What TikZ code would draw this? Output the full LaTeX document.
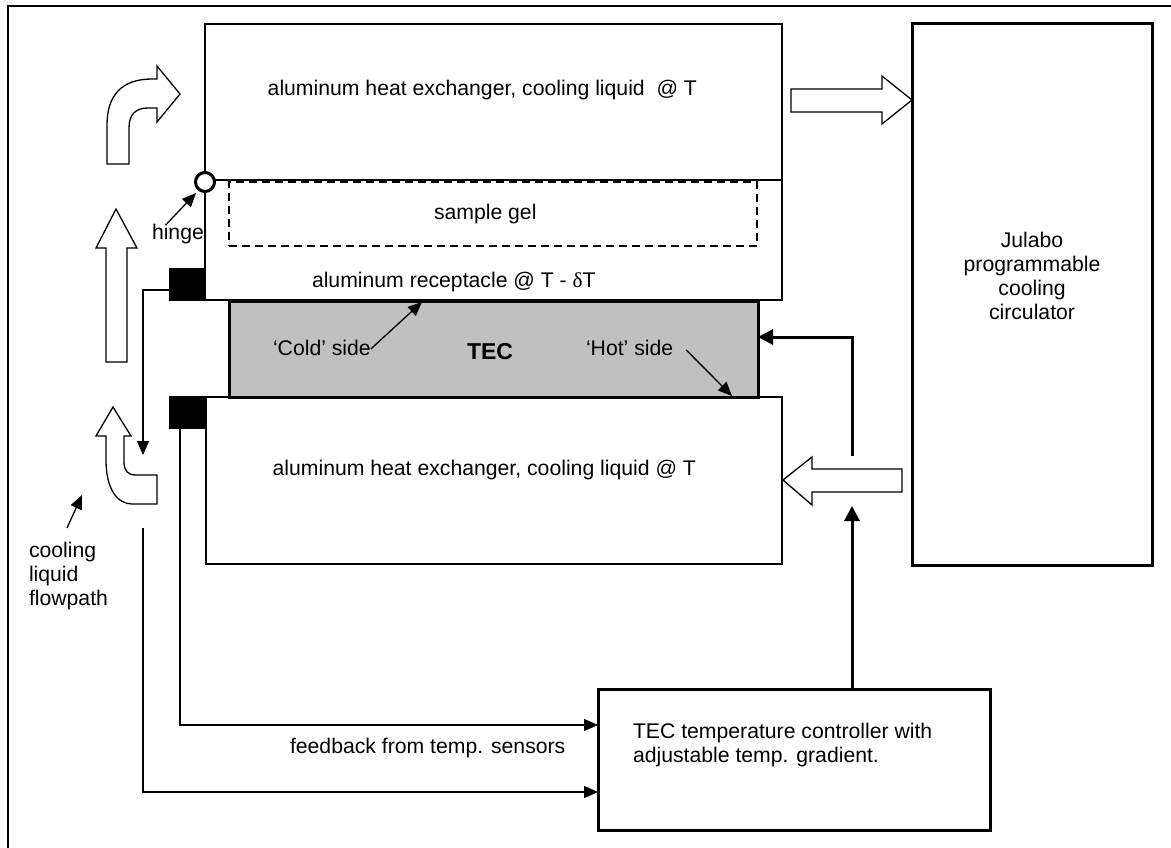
\documentclass[tikz,border=0pt]{standalone}
\usepackage{fontspec}
\setmainfont{Liberation Sans}
\newfontfamily\greekserif{Liberation Serif}
\usetikzlibrary{arrows.meta,calc}
\definecolor{tecgray}{RGB}{192,192,192}

\begin{document}
\begin{tikzpicture}[x=1pt,y=-1pt,
  every node/.style={inner sep=0pt, outer sep=0pt,
    font=\fontsize{21.2pt}{24pt}\selectfont},
  box/.style={draw, line width=1.3pt, rectangle, anchor=north west},
  heavybox/.style={draw, line width=3pt, rectangle, anchor=north west},
  sensor/.style={fill=black, rectangle, anchor=north west,
    minimum width=37pt, minimum height=33pt},
  label/.style={anchor=base west},
  wire/.style={line width=1.3pt, -{Triangle[length=14pt,width=12pt]}},
  heavywire/.style={line width=3pt, -{Triangle[length=15pt,width=15pt]}},
  flow/.style={draw, fill=white, line width=1.3pt, line join=miter},
]
\useasboundingbox (0,0) rectangle (1171,848);

% page frame
\draw[line width=1.3pt] (8,848) -- (8,6) -- (1171,6);

% stack: heat exchangers, receptacle, TEC
\node[box, minimum width=577pt, minimum height=156pt] (tophx) at (205,24) {};
\node[box, minimum width=577pt, minimum height=120pt] (recept) at (205,180) {};
\node[box, dashed, dash pattern=on 8pt off 5pt, minimum width=528pt,
      minimum height=64pt] (gel) at (229,182) {};
\node[box, minimum width=576pt, minimum height=167pt] (bothx) at (206,397) {};
\node[heavybox, fill=tecgray, minimum width=529pt, minimum height=96pt]
      (tec) at (229,301) {};

% temperature sensors
\node[sensor] (sq1) at (169,268) {};
\node[sensor] (sq2) at (169,396) {};

% hinge
\node[circle, draw, fill=white, line width=3pt, minimum size=19pt] (hinge) at (205,182) {};

% circulator and controller
\node[heavybox, minimum width=240pt, minimum height=541pt] (julabo) at (912,24) {};
\node[heavybox, minimum width=392pt, minimum height=141pt] (ctrl) at (598,689) {};

% texts (multi-line nodes are placed by the baseline of their last line)
\node[anchor=base east] (ttop) at (697,96)
      {aluminum heat exchanger, cooling liquid\kern11.8pt @ T};
\node[label] (tgel) at (434,219) {sample gel};
\node[label] (trec) at (312,287) {aluminum receptacle @ T - {\greekserif δ}T};
\node[label] (tcold) at (273,355) {‘Cold’ side};
\node[anchor=base, font=\fontsize{23pt}{26pt}\selectfont\bfseries] (ttec) at (490,359) {TEC};
\node[label] (thot) at (586,355) {‘Hot’ side};
\node[anchor=base east] (tbot) at (696,475) {aluminum heat exchanger, cooling liquid @ T};
\node[label] (thinge) at (152,240) {hinge};
\node[anchor=base, align=center] (tjul) at (1032,319)
      {Julabo\\programmable\\cooling\\circulator};
\node[label, align=left] (tctrl) at (633,762)
      {TEC temperature controller with\\adjustable temp. gradient.};
\node[label] (tfb) at (290,753) {feedback from temp. sensors};
\node[label, align=left] (tflow) at (29,605) {cooling\\liquid\\flowpath};

% pointer arrows
\coordinate (coldtip) at (422,302);
\coordinate (hottip) at (732,396);
\coordinate (hingetip) at (196,193);
\coordinate (flowtail) at (67,528);
\coordinate (flowtip) at (82,495);
\draw[wire] (tcold.base east) ++(0,-6) -- (coldtip);
\draw[wire] (thot.base east) ++(13,-5) -- (hottip);
\draw[wire] (thinge.north) ++(-11,-1) -- (hingetip);
\draw[wire] (flowtail) -- (flowtip);

% sensor leads and controller outputs
\coordinate (leaddown) at (143,455);
\coordinate (flowline) at (143,528);
\coordinate (ctrlout) at (852,506);
\coordinate (tecfeed) at (852,456);
\draw[wire] ([yshift=-5.5pt]sq1.west) -| (leaddown);
\draw[wire] ([xshift=-7.5pt]sq2.south) |- ([yshift=34.5pt]ctrl.west);
\draw[wire] (flowline) |- ([yshift=-32.5pt]ctrl.west);
\draw[heavywire] ([xshift=58pt]ctrl.north) -- (ctrlout);
\draw[heavywire] (tecfeed) |- ([yshift=12pt]tec.east);

% coolant flow arrows
\draw[flow] (791,89) -- (882,89) -- (882,76) -- (912,100) -- (882,124)
            -- (882,112) -- (791,112) -- cycle;
\draw[flow] (902,469) -- (812,469) -- (812,457) -- (783,480) -- (812,505)
            -- (812,492) -- (902,492) -- cycle;
\draw[flow] (106,362) -- (106,248) -- (96,248) -- (116,209) -- (137,248)
            -- (127,248) -- (127,362) -- cycle;
\draw[flow] (107,164) -- (107,125) .. controls (107,95) and (122,79) .. (152,79)
            -- (157,79) -- (157,66) -- (180,94) -- (157,122) -- (157,108)
            -- (148,108) .. controls (136,108) and (129,114) .. (129,128)
            -- (129,164) -- cycle;
\draw[flow] (157,475) -- (136,475) .. controls (128,475) and (124,471) .. (124,462)
            -- (124,436) -- (131,436) -- (113,407) -- (96,436) -- (106,436)
            -- (106,460) .. controls (106,490) and (118,504) .. (132,504)
            -- (157,504) -- cycle;
\end{tikzpicture}
\end{document}
